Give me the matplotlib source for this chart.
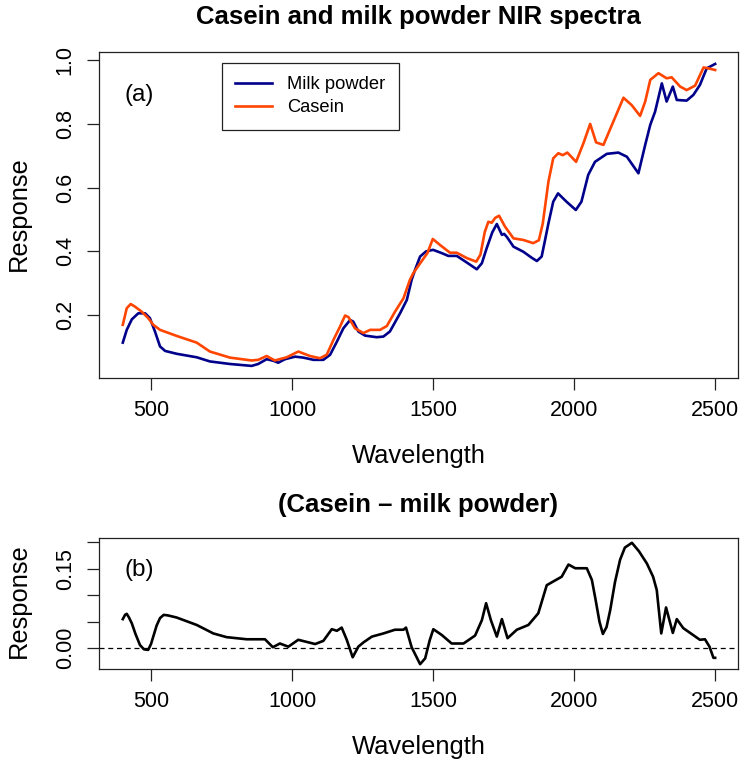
import matplotlib.pyplot as plt

plt.rcParams['font.family'] = ['Liberation Sans', 'DejaVu Sans']

# Milk powder spectrum
milk_x = [400, 414, 432, 455, 479, 496, 514, 532, 550, 591, 662, 709, 780, 857, 880, 910,
          934, 951, 975, 1011, 1040, 1076, 1111, 1135, 1159, 1182, 1206, 1217, 1235, 1259,
          1300, 1324, 1347, 1383, 1407, 1424, 1436, 1454, 1475, 1500, 1530, 1554, 1584,
          1620, 1655, 1673, 1690, 1710, 1726, 1744, 1752, 1762, 1785, 1820, 1850, 1868,
          1885, 1898, 1909, 1926, 1943, 1973, 2006, 2026, 2050, 2074, 2116, 2157, 2187,
          2228, 2252, 2270, 2287, 2311, 2328, 2350, 2364, 2399, 2423, 2446, 2470, 2500]
milk_y = [0.114, 0.154, 0.187, 0.206, 0.206, 0.191, 0.149, 0.102, 0.088, 0.079, 0.068,
          0.055, 0.047, 0.041, 0.047, 0.062, 0.057, 0.051, 0.062, 0.070, 0.067, 0.060,
          0.060, 0.076, 0.117, 0.159, 0.185, 0.180, 0.149, 0.136, 0.131, 0.133, 0.149,
          0.206, 0.248, 0.311, 0.342, 0.384, 0.400, 0.405, 0.395, 0.386, 0.386, 0.365,
          0.344, 0.363, 0.410, 0.460, 0.486, 0.452, 0.455, 0.445, 0.415, 0.399, 0.380,
          0.370, 0.384, 0.440, 0.488, 0.556, 0.582, 0.556, 0.530, 0.556, 0.640, 0.681,
          0.706, 0.710, 0.697, 0.645, 0.734, 0.797, 0.838, 0.927, 0.870, 0.917, 0.875,
          0.873, 0.891, 0.922, 0.974, 0.988]

# Casein spectrum
casein_x = [400, 414, 428, 443, 467, 490, 508, 532, 591, 662, 709, 780, 857, 880, 910,
            939, 981, 1022, 1064, 1099, 1123, 1147, 1170, 1188, 1200, 1223, 1253, 1277,
            1312, 1336, 1365, 1395, 1418, 1430, 1460, 1480, 1499, 1525, 1560, 1584, 1620,
            1653, 1668, 1683, 1696, 1708, 1720, 1734, 1755, 1785, 1820, 1855, 1875, 1889,
            1909, 1926, 1944, 1960, 1976, 2007, 2033, 2057, 2078, 2104, 2139, 2175, 2204,
            2234, 2252, 2270, 2299, 2328, 2346, 2376, 2399, 2429, 2459, 2477, 2500]
casein_y = [0.170, 0.222, 0.235, 0.227, 0.211, 0.191, 0.170, 0.154, 0.135, 0.114, 0.086,
            0.067, 0.058, 0.060, 0.072, 0.058, 0.068, 0.086, 0.072, 0.065, 0.076, 0.123,
            0.164, 0.199, 0.194, 0.159, 0.144, 0.154, 0.154, 0.166, 0.211, 0.253, 0.311,
            0.332, 0.370, 0.395, 0.439, 0.420, 0.396, 0.396, 0.379, 0.368, 0.390, 0.460,
            0.493, 0.490, 0.505, 0.512, 0.478, 0.441, 0.436, 0.426, 0.435, 0.488, 0.619,
            0.692, 0.708, 0.702, 0.710, 0.681, 0.739, 0.800, 0.742, 0.734, 0.807, 0.882,
            0.859, 0.825, 0.870, 0.938, 0.959, 0.943, 0.946, 0.917, 0.906, 0.920, 0.977,
            0.974, 0.969]

# Casein - milk powder difference
diff_x = [400, 408, 414, 422, 432, 445, 461, 475, 490, 500, 508, 520, 532, 545, 560, 591,
          662, 721, 768, 839, 904, 932, 957, 987, 1022, 1082, 1111, 1141, 1159, 1176, 1194,
          1215, 1235, 1253, 1283, 1324, 1365, 1395, 1404, 1424, 1454, 1472, 1488, 1501,
          1531, 1566, 1608, 1649, 1673, 1688, 1705, 1726, 1744, 1764, 1797, 1838, 1873,
          1903, 1926, 1956, 1980, 2004, 2045, 2063, 2075, 2090, 2102, 2115, 2128, 2145,
          2163, 2180, 2205, 2230, 2258, 2280, 2293, 2309, 2326, 2350, 2364, 2387, 2422,
          2446, 2464, 2480, 2494, 2500]
diff_y = [0.055, 0.063, 0.065, 0.058, 0.047, 0.027, 0.006, -0.002, -0.003, 0.008, 0.022,
          0.043, 0.057, 0.063, 0.062, 0.058, 0.044, 0.028, 0.021, 0.017, 0.017, 0.002,
          0.009, 0.003, 0.016, 0.008, 0.014, 0.036, 0.033, 0.039, 0.016, -0.017, 0.003,
          0.011, 0.022, 0.028, 0.035, 0.035, 0.039, 0.002, -0.030, -0.019, 0.015, 0.036,
          0.025, 0.009, 0.009, 0.024, 0.053, 0.085, 0.053, 0.022, 0.055, 0.019, 0.035,
          0.044, 0.066, 0.119, 0.126, 0.135, 0.158, 0.151, 0.151, 0.129, 0.095, 0.050,
          0.027, 0.040, 0.072, 0.125, 0.167, 0.190, 0.199, 0.183, 0.160, 0.135, 0.110,
          0.028, 0.077, 0.029, 0.055, 0.038, 0.025, 0.016, 0.017, 0.003, -0.018, -0.018]

x_ticks = [500, 1000, 1500, 2000, 2500]
top_yticks = [0.2, 0.4, 0.6, 0.8, 1.0]
top_ylabels = ['0.2', '0.4', '0.6', '0.8', '1.0']
bot_yticks = [0.0, 0.05, 0.10, 0.15, 0.20]
bot_ylabels = ['0.00', '', '', '0.15', '']

W, H = 741, 763
fig = plt.figure(figsize=(W / 100, H / 100), dpi=100)


def px_axes(left, top, right, bottom):
    return fig.add_axes([left / W, 1 - bottom / H, (right - left) / W, (bottom - top) / H])


def style(ax, yticks, ylabels):
    for s in ax.spines.values():
        s.set_linewidth(0.9)
        s.set_color('#222222')
    ax.set_xticks(x_ticks)
    ax.set_yticks(yticks)
    ax.set_yticklabels(ylabels, rotation=90, va='center')
    ax.tick_params(axis='both', direction='out', length=8.5, width=0.9,
                   color='#222222', labelsize=15.5)
    ax.tick_params(axis='x', pad=7.5)
    ax.tick_params(axis='y', pad=8.5)
    ax.set_xlim(316.7, 2580)


# (a) spectra
ax1 = px_axes(99.3, 52.3, 737.7, 377.7)
ax1.plot(milk_x, milk_y, color='#00008B', lw=1.9, label='Milk powder')
ax1.plot(casein_x, casein_y, color='#FF4500', lw=1.9, label='Casein')
ax1.set_ylim(0.004, 1.0245)
style(ax1, top_yticks, top_ylabels)
ax1.text(0.04, 0.87, '(a)', transform=ax1.transAxes, fontsize=17.5, va='center')
leg = ax1.legend(loc='upper left', bbox_to_anchor=(0.1917, 0.968), borderaxespad=0,
                 fontsize=13.2, handlelength=2.0, handletextpad=0.8, borderpad=0.75,
                 labelspacing=0.3, fancybox=False, framealpha=1, edgecolor='#222222')
leg.get_frame().set_linewidth(0.9)

# (b) difference
ax2 = px_axes(99.3, 538.3, 737.7, 669)
ax2.plot(diff_x, diff_y, color='black', lw=1.9)
ax2.axhline(0, color='black', lw=0.9, ls=(0, (4, 3)))
ax2.set_ylim(-0.0391, 0.2075)
style(ax2, bot_yticks, bot_ylabels)
ax2.text(0.04, 0.76, '(b)', transform=ax2.transAxes, fontsize=17.5, va='center')

# titles and axis labels
fig.text(418.5 / W, 1 - 24 / H, 'Casein and milk powder NIR spectra', ha='center',
         va='baseline', fontsize=18.5, fontweight='bold')
fig.text(418.5 / W, 1 - 512 / H, '(Casein \u2013 milk powder)', ha='center',
         va='baseline', fontsize=18.5, fontweight='bold')
fig.text(418.5 / W, 1 - 463.3 / H, 'Wavelength', ha='center', va='baseline', fontsize=18.4)
fig.text(418.5 / W, 1 - 754 / H, 'Wavelength', ha='center', va='baseline', fontsize=18.4)
fig.text(19 / W, 1 - 214 / H, 'Response', ha='center', va='center', rotation=90, fontsize=18.4)
fig.text(19 / W, 1 - 601 / H, 'Response', ha='center', va='center', rotation=90, fontsize=18.4)

fig.savefig('out.png', dpi=100)
